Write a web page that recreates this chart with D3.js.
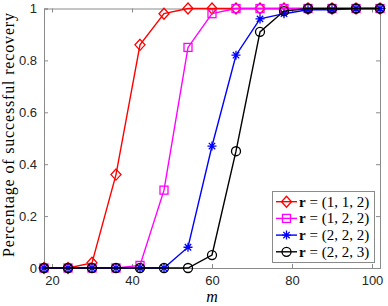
<!DOCTYPE html>
<html><head><meta charset="utf-8">
<script src="https://cdn.jsdelivr.net/npm/d3@7"></script>
<style>html,body{margin:0;padding:0;background:#fff;}svg{display:block;}</style>
</head><body>
<svg id="c" width="388" height="306"></svg>
<script>
const mValues = [18,24,30,36,42,48,54,60,66,72,78,84,90,96,102];
const red112     = [0,0,0.02,0.36,0.86,0.98,1,1,1,1,1,1,1,1,1];
const magenta122 = [0,0,0,0,0.01,0.30,0.85,0.98,1,1,1,1,1,1,1];
const blue222    = [0,0,0,0,0,0,0.08,0.47,0.82,0.96,0.98,0.995,0.995,1,1];
const black223   = [0,0,0,0,0,0,0,0.05,0.45,0.91,0.99,1,1,1,1];
const seriesLabels = ["(1, 1, 2)","(1, 2, 2)","(2, 2, 2)","(2, 2, 3)"];
const xTicks = [20,40,60,80,100];
const yTicks = [0,0.2,0.4,0.6,0.8,1];
const yTickLabels = ["0","0.2","0.4","0.6","0.8","1"];

const series = [
  {vals: red112, color:"#ff0000", marker:"diamond"},
  {vals: magenta122, color:"#ff00ff", marker:"square"},
  {vals: blue222, color:"#0000ff", marker:"asterisk"},
  {vals: black223, color:"#000000", marker:"circle"}
];

const L=44, R=380, T=8.5, B=268;
const x = d3.scaleLinear().domain([18,102]).range([L,R]);
const y = d3.scaleLinear().domain([0,1]).range([B,T]);
const svg = d3.select("#c");
const axisColor="#262626";

svg.append("rect").attr("x",L).attr("y",T).attr("width",R-L).attr("height",B-T).attr("fill","#fff");

const fontSans = "'Liberation Sans', Arial, sans-serif";
const gx = svg.append("g").attr("transform",`translate(0,${B})`)
  .call(d3.axisBottom(x).tickValues(xTicks).tickSize(-4).tickPadding(8));
const gxt = svg.append("g").attr("transform",`translate(0,${T})`)
  .call(d3.axisTop(x).tickValues(xTicks).tickSize(-4).tickFormat(""));
const gy = svg.append("g").attr("transform",`translate(${L},0)`)
  .call(d3.axisLeft(y).tickValues(yTicks).tickSize(-4).tickPadding(7).tickFormat((d,i)=>yTickLabels[i]));
const gyr = svg.append("g").attr("transform",`translate(${R},0)`)
  .call(d3.axisRight(y).tickValues(yTicks).tickSize(-4).tickFormat(""));
[gx,gxt,gy,gyr].forEach(g=>{
  g.selectAll("path").attr("stroke","#8a8a8a").attr("stroke-width",1);
  g.selectAll("line").attr("stroke","#8a8a8a").attr("stroke-width",1);
  g.selectAll("text").attr("fill",axisColor).style("font-family",fontSans).style("font-size","13px");
});
gx.selectAll("text").attr("dy","0.71em");

function drawMarker(g, type, cx, cy, color){
  if(type==="diamond"){
    g.append("path").attr("d",`M${cx},${cy-5.5}L${cx+5},${cy}L${cx},${cy+5.5}L${cx-5},${cy}Z`)
      .attr("fill","none").attr("stroke",color).attr("stroke-width",1.3);
  } else if(type==="square"){
    g.append("rect").attr("x",cx-4).attr("y",cy-4).attr("width",8).attr("height",8)
      .attr("fill","none").attr("stroke",color).attr("stroke-width",1.3);
  } else if(type==="circle"){
    g.append("circle").attr("cx",cx).attr("cy",cy).attr("r",4.5)
      .attr("fill","none").attr("stroke",color).attr("stroke-width",1.3);
  } else {
    const s=4.5, d=3.2;
    g.append("path").attr("d",`M${cx},${cy-s}V${cy+s}M${cx-s},${cy}H${cx+s}M${cx-d},${cy-d}L${cx+d},${cy+d}M${cx-d},${cy+d}L${cx+d},${cy-d}`)
      .attr("stroke",color).attr("stroke-width",1.3).attr("fill","none");
  }
}

const line = d3.line().x((d,i)=>x(mValues[i])).y(d=>y(d));
series.forEach(s=>{
  const g = svg.append("g");
  g.append("path").datum(s.vals).attr("d",line).attr("fill","none")
    .attr("stroke",s.color).attr("stroke-width",1.4);
  s.vals.forEach((v,i)=>drawMarker(g,s.marker,x(mValues[i]),y(v),s.color));
});

svg.append("text").attr("transform",`translate(13.5,135) rotate(-90)`)
  .attr("text-anchor","middle").style("font-family","'Liberation Serif', serif").style("font-size","16px")
  .attr("textLength",244).attr("lengthAdjust","spacing")
  .attr("fill","#000").text("Percentage of successful recovery");
svg.append("text").attr("x",(L+R)/2).attr("y",302).attr("text-anchor","middle")
  .style("font-family","'Liberation Serif', serif").style("font-style","italic").style("font-size","16px")
  .attr("fill","#000").text("m");

const lg = svg.append("g");
lg.append("rect").attr("x",272.5).attr("y",191.5).attr("width",102).attr("height",71)
  .attr("fill","#fff").attr("stroke","#8a8a8a").attr("stroke-width",1);
series.forEach((s,i)=>{
  const ly = 201.7 + i*16.7;
  lg.append("line").attr("x1",276).attr("x2",297).attr("y1",ly).attr("y2",ly)
    .attr("stroke",s.color).attr("stroke-width",1.4);
  drawMarker(lg,s.marker,286.5,ly,s.color);
  const t = lg.append("text").attr("x",299).attr("y",ly+5)
    .style("font-family","'Liberation Serif', serif").style("font-size","15px").attr("fill","#000");
  t.append("tspan").style("font-weight","bold").text("r");
  t.append("tspan").text(" = " + seriesLabels[i]);
});
</script>
</body></html>
